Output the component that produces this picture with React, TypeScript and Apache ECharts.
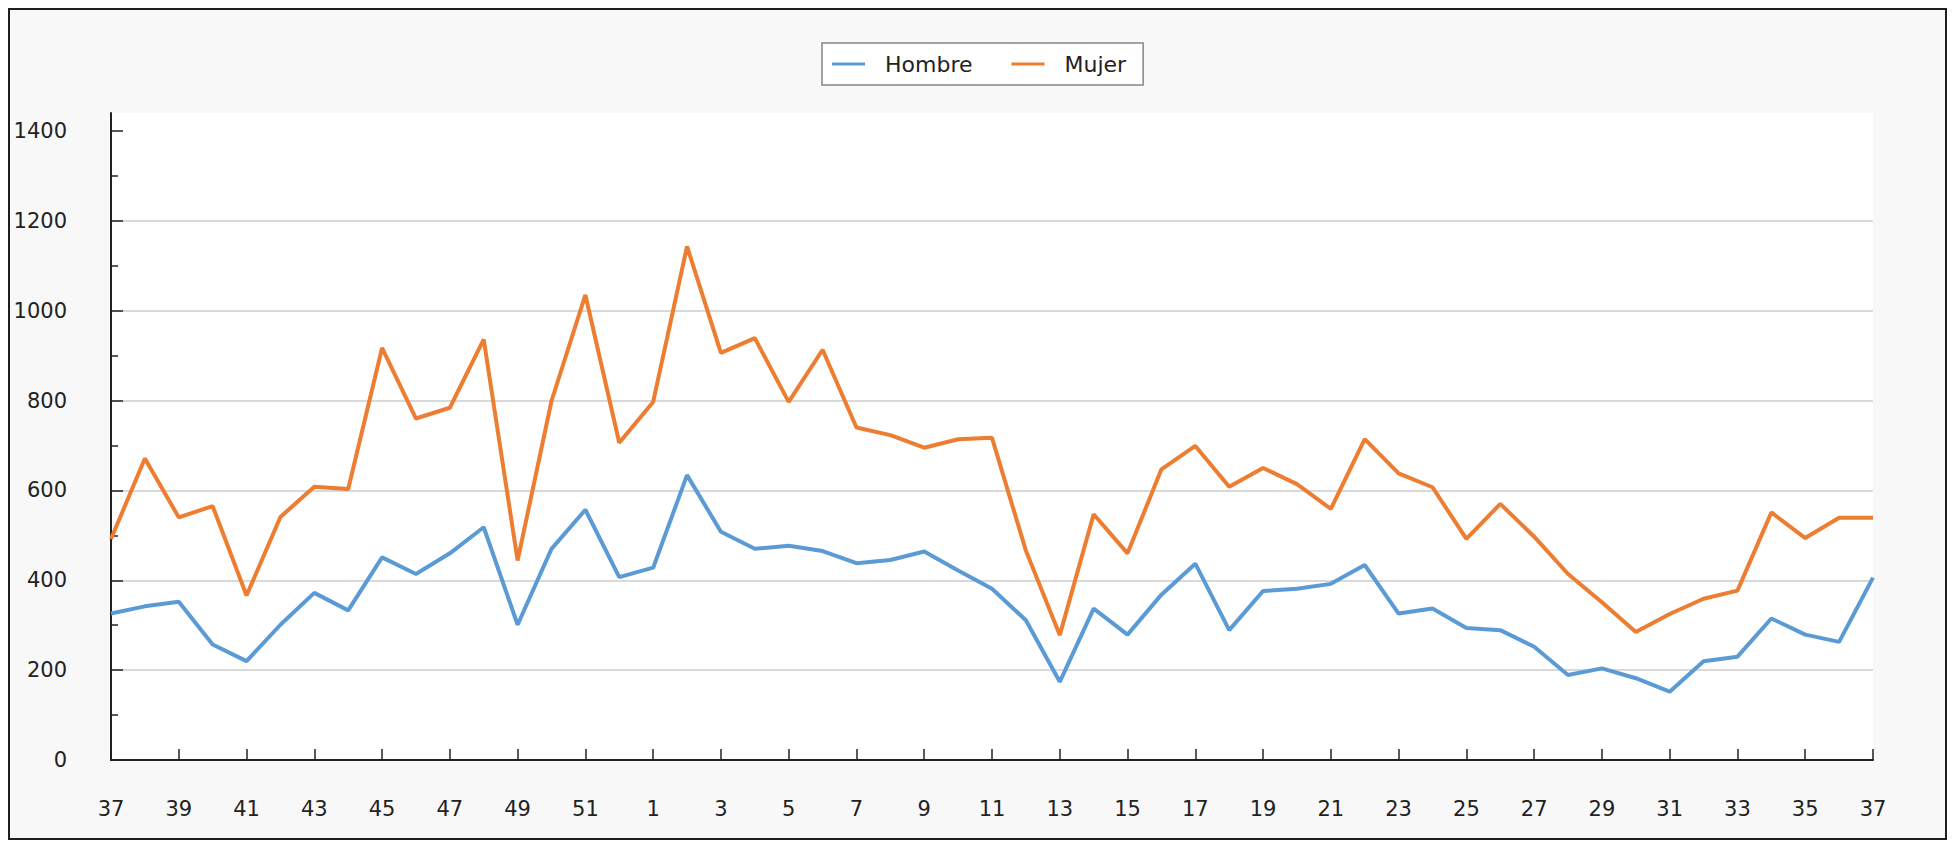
import React, { useEffect, useRef } from "react";
import * as echarts from "echarts";

const weeks: string[] = [
  "37", "38", "39", "40", "41", "42", "43", "44", "45", "46", "47", "48", "49", "50", "51", "52",
  "1", "2", "3", "4", "5", "6", "7", "8", "9", "10", "11", "12", "13", "14", "15", "16", "17", "18",
  "19", "20", "21", "22", "23", "24", "25", "26", "27", "28", "29", "30", "31", "32", "33", "34", "35",
  "36", "37",
];

const hombre: number[] = [
  326, 342, 352, 257, 220, 301, 372, 333, 451, 414, 460, 518, 301, 470, 557, 407,
  428, 634, 508, 470, 477, 465, 438, 445, 464, 422, 381, 311, 174, 337, 279, 368,
  437, 289, 376, 381, 392, 434, 326, 337, 294, 289, 252, 189, 204, 182, 152, 220,
  230, 315, 279, 263, 406,
];

const mujer: number[] = [
  492, 671, 540, 565, 366, 541, 608, 603, 917, 760, 784, 936, 444, 799, 1035, 706,
  797, 1143, 906, 939, 797, 913, 740, 723, 695, 714, 717, 466, 278, 547, 460, 647,
  699, 608, 650, 614, 559, 714, 638, 607, 492, 570, 497, 414, 351, 285, 325, 359,
  377, 551, 494, 539, 539,
];

const yTickValues: number[] = [0, 200, 400, 600, 800, 1000, 1200, 1400];
const yMinorValues: number[] = [100, 300, 500, 700, 900, 1100, 1300];

const FONT = "DejaVu Sans";
const AXIS_COLOR = "#222222";

export default function App() {
  const ref = useRef<HTMLDivElement>(null);

  useEffect(() => {
    if (!ref.current) return;
    const chart = echarts.init(ref.current, undefined, { renderer: "svg" });
    chart.setOption({
      animation: false,
      backgroundColor: "#f8f8f8",
      textStyle: { fontFamily: FONT },
      legend: {
        left: 812,
        top: 33,
        orient: "horizontal",
        padding: [8, 17, 8, 10],
        itemGap: 39,
        itemWidth: 33,
        itemHeight: 3,
        icon: "rect",
        backgroundColor: "#ffffff",
        borderColor: "#858585",
        borderWidth: 1.5,
        textStyle: {
          fontFamily: FONT,
          fontSize: 22,
          color: "#222222",
          padding: [0, 0, 0, 15],
          lineHeight: 26,
        },
        data: ["Hombre", "Mujer"],
      },
      grid: {
        left: 101,
        right: 72,
        top: 103,
        bottom: 78,
        show: true,
        backgroundColor: "#ffffff",
        borderWidth: 0,
      },
      xAxis: {
        type: "category",
        data: weeks,
        boundaryGap: false,
        axisLine: { show: true, lineStyle: { color: AXIS_COLOR, width: 2 } },
        axisTick: {
          show: true,
          inside: true,
          length: 11,
          interval: 1,
          lineStyle: { color: AXIS_COLOR, width: 1.5 },
        },
        axisLabel: {
          interval: 1,
          margin: 38,
          fontSize: 21,
          fontFamily: FONT,
          color: "#222222",
        },
        splitLine: { show: false },
      },
      yAxis: [
        {
          type: "value",
          min: 0,
          max: 1440,
          interval: 200,
          axisLine: { show: true, lineStyle: { color: AXIS_COLOR, width: 2 } },
          axisTick: {
            show: true,
            inside: true,
            length: 12,
            customValues: yTickValues,
            lineStyle: { color: AXIS_COLOR, width: 1.5 },
          },
          axisLabel: {
            margin: 44,
            fontSize: 21,
            fontFamily: FONT,
            color: "#222222",
            customValues: yTickValues,
            formatter: (v: number) => String(v),
          },
          splitLine: {
            show: true,
            showMaxLine: false,
            showMinLine: false,
            lineStyle: { color: "#cccccc", width: 1.5 },
          },
        },
        {
          type: "value",
          position: "left",
          min: 0,
          max: 1440,
          interval: 100,
          axisLine: { show: false },
          axisTick: {
            show: true,
            inside: true,
            length: 7,
            customValues: yMinorValues,
            lineStyle: { color: AXIS_COLOR, width: 1.5 },
          },
          axisLabel: { show: false },
          splitLine: { show: false },
        },
      ],
      series: [
        {
          name: "Hombre",
          type: "line",
          data: hombre,
          showSymbol: false,
          symbol: "none",
          color: "#5b9bd5",
          lineStyle: { color: "#5b9bd5", width: 4 },
        },
        {
          name: "Mujer",
          type: "line",
          data: mujer,
          showSymbol: false,
          symbol: "none",
          color: "#ed7d31",
          lineStyle: { color: "#ed7d31", width: 4 },
        },
      ],
    });
    return () => {
      chart.dispose();
    };
  }, []);

  return (
    <div
      style={{
        width: 1939,
        height: 832,
        boxSizing: "border-box",
        border: "2px solid #1e1e1e",
        background: "#f8f8f8",
      }}
    >
      <div ref={ref} style={{ width: 1935, height: 828 }} />
    </div>
  );
}
